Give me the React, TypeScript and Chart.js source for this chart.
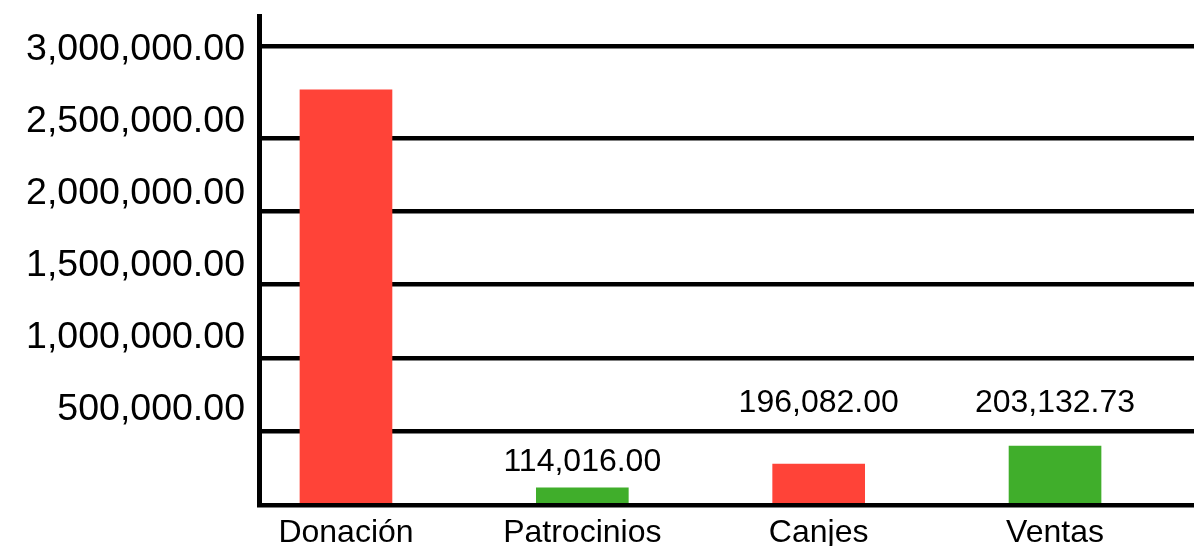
import React, { useEffect, useRef } from "react";
import { Chart, registerables } from "chart.js";

Chart.register(...registerables);

const categories = ["Donación", "Patrocinios", "Canjes", "Ventas"];
const barValues = [2827000, 117000, 279000, 402000];
const labelValues: (number | null)[] = [null, 114016, 196082, 203132.73];
const barColors = ["#FF4338", "#40AE2B", "#FF4338", "#40AE2B"];
const yTickLabels = [500000, 1000000, 1500000, 2000000, 2500000, 3000000];
const gridValues = [0, 500000, 1000000, 1500000, 2000000, 2500000, 3125000];

const FONT = "'Liberation Sans', Arial, Helvetica, sans-serif";

const fmt = (v: number) =>
  v.toLocaleString("en-US", { minimumFractionDigits: 2, maximumFractionDigits: 2 });

// Data labels sit just above the bar; if that would collide with a grid line,
// they are lifted above that line.
const dataLabelPlugin = {
  id: "dataLabels",
  afterDatasetsDraw(chart: any) {
    const ctx = chart.ctx;
    const meta = chart.getDatasetMeta(0);
    const yScale = chart.scales.y;
    const gridPx = gridValues.map((v) => yScale.getPixelForValue(v));
    const half = 12;
    ctx.save();
    ctx.font = `32px ${FONT}`;
    ctx.fillStyle = "#000";
    ctx.textAlign = "center";
    ctx.textBaseline = "middle";
    meta.data.forEach((bar: any, i: number) => {
      const v = labelValues[i];
      if (v == null) return;
      let y = bar.y - 26;
      for (const gp of gridPx) {
        if (Math.abs(y - gp) < half + 4) {
          y = gp - 28;
        }
      }
      ctx.fillText(fmt(v), bar.x, y);
    });
    ctx.restore();
  },
};

export default function App() {
  const ref = useRef<HTMLCanvasElement | null>(null);

  useEffect(() => {
    document.body.style.margin = "0";
    if (!ref.current) return;
    const chart = new Chart(ref.current, {
      type: "bar",
      data: {
        datasets: [
          {
            data: barValues.map((y, i) => ({ x: i, y })),
            xAxisID: "x",
            yAxisID: "y",
            backgroundColor: barColors,
            borderWidth: 0,
            barThickness: 92,
          },
        ],
      },
      options: {
        animation: false,
        responsive: false,
        layout: { padding: { top: 16, left: 0, right: 0, bottom: 0 } },
        plugins: { legend: { display: false }, tooltip: { enabled: false } },
        scales: {
          x: {
            type: "linear",
            position: "bottom",
            offset: false,
            min: -0.368,
            max: 3.588,
            afterBuildTicks: (s: any) => {
              s.ticks = categories.map((_, i) => ({ value: i }));
            },
            afterFit: (s: any) => {
              s.height = 41;
              s.paddingLeft = 0;
              s.paddingRight = 0;
            },
            grid: { display: false, drawTicks: false, offset: false },
            border: { display: false },
            ticks: {
              padding: 9,
              color: "#000",
              font: { size: 32, family: FONT },
              maxRotation: 0,
              autoSkip: false,
              callback: (v: any) => categories[Math.round(Number(v))] ?? "",
            },
          },
          yLabels: {
            type: "linear",
            position: "left",
            weight: 2,
            min: -159000,
            max: 3234000,
            afterBuildTicks: (s: any) => {
              s.ticks = yTickLabels.map((v) => ({ value: v }));
            },
            afterFit: (s: any) => {
              s.width = 259;
              s.paddingTop = 0;
              s.paddingBottom = 0;
            },
            grid: { display: false, drawTicks: false },
            border: { display: false },
            ticks: {
              padding: 14,
              color: "#000",
              font: { size: 37.5, family: FONT },
              callback: (v: any) => fmt(Number(v)),
            },
          },
          y: {
            type: "linear",
            position: "left",
            weight: 1,
            min: 0,
            max: 3330000,
            afterBuildTicks: (s: any) => {
              s.ticks = gridValues.map((v) => ({ value: v }));
            },
            afterFit: (s: any) => {
              s.width = 0;
              s.paddingTop = 0;
              s.paddingBottom = 0;
            },
            grid: { display: true, drawTicks: false, color: "#000", lineWidth: 4.5 },
            border: { display: true, color: "#000", width: 5 },
            ticks: { display: false },
          },
        },
      } as any,
      plugins: [dataLabelPlugin],
    });
    return () => chart.destroy();
  }, []);

  return <canvas ref={ref} width={1194} height={546} style={{ display: "block" }} />;
}
